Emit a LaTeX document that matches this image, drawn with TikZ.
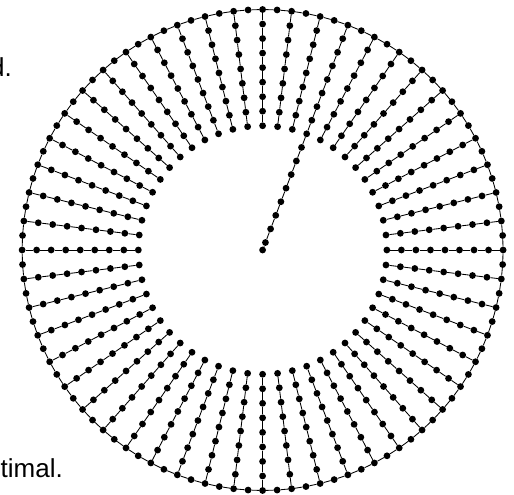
\documentclass[tikz,border=0pt]{standalone}
\usepackage{fontspec}
\setmainfont{Liberation Sans}
\begin{document}
\begin{tikzpicture}[x=1pt,y=1pt,
  vtx/.style={circle,fill=black,inner sep=0pt,minimum size=6.8pt},
  edge/.style={line width=0.85pt,black},
  captext/.style={font=\fontsize{26}{30}\selectfont,inner sep=0pt,anchor=base east}]
\useasboundingbox (0,0) rectangle (514,-495);
\def\R{240.5}
\def\u{14.53}
\begin{scope}[shift={(262.6,-250)}]
  \foreach \i in {0,...,103}{
    \node[vtx] (o\i) at ({90-\i*3.4615385}:\R) {};
  }
  \foreach \j in {0,...,51}{
    \pgfmathtruncatemacro\kmax{\j==3 ? 16 : 8}
    \foreach \k in {1,...,\kmax}{
      \node[vtx] (s\j-\k) at ({90-\j*6.9230769}:{\R-\k*\u}) {};
    }
  }
  \node[vtx] (c) at (0,0) {};
\end{scope}
% outer cycle
\foreach \i [evaluate=\i as \n using {int(mod(\i+1,104))}] in {0,...,103}{
  \draw[edge] (o\i) -- (o\n);
}
% spokes
\foreach \j in {0,...,51}{
  \pgfmathtruncatemacro\o{2*\j}
  \pgfmathtruncatemacro\kmm{\j==3 ? 15 : 7}
  \draw[edge] (o\o) -- (s\j-1);
  \foreach \k [evaluate=\k as \kn using {int(\k+1)}] in {1,...,\kmm}{
    \draw[edge] (s\j-\k) -- (s\j-\kn);
  }
}
\draw[edge] (s3-16) -- (c);
% cut-off caption texts
\node[captext] (t1) at (12,-77) {d.};
\node[captext] (t2) at (63,-477) {timal.};
\end{tikzpicture}
\end{document}
